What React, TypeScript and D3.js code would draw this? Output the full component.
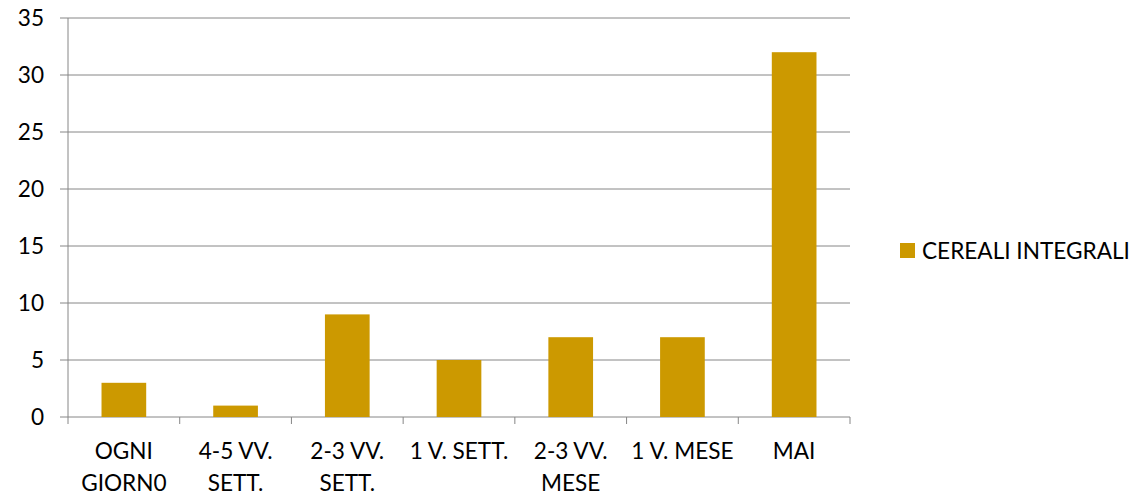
import React from "react";
import * as d3 from "d3";

const categories: string[][] = [
  ["OGNI", "GIORN0"],
  ["4-5 VV.", "SETT."],
  ["2-3 VV.", "SETT."],
  ["1 V. SETT."],
  ["2-3 VV.", "MESE"],
  ["1 V. MESE"],
  ["MAI"],
];
const values: number[] = [3, 1, 9, 5, 7, 7, 32];
const yTicks: number[] = [0, 5, 10, 15, 20, 25, 30, 35];
const seriesName = "CEREALI INTEGRALI";

const W = 1137;
const H = 498;
const left = 68;
const right = 850;
const top = 18;
const bottom = 417;
const font = "Lato, 'Open Sans', sans-serif";
const fs = 22.6;
const barColor = "#CC9900";
const gridColor = "#868686";

export default function App() {
  const x = d3
    .scaleBand<number>()
    .domain(categories.map((_, i) => i))
    .range([left, right])
    .padding(0);
  const y = d3.scaleLinear().domain([0, 35]).range([bottom, top]);
  const bw = x.bandwidth() * 0.4;

  return (
    <svg
      width={W}
      height={H}
      style={{ position: "absolute", left: 0, top: 0, background: "#fff" }}
      fontFamily={font}
    >
      {yTicks.map((t) => (
        <g key={t}>
          <line x1={left - 8} x2={right} y1={y(t)} y2={y(t)} stroke={gridColor} strokeWidth={1} />
          <text x={44} y={y(t)} dy="0.35em" textAnchor="end" fontSize={fs} fill="#000">
            {t}
          </text>
        </g>
      ))}
      <line x1={left} x2={left} y1={top} y2={bottom} stroke={gridColor} strokeWidth={1} />
      {categories.map((_, i) => (
        <line
          key={"t" + i}
          x1={x(i)!}
          x2={x(i)!}
          y1={bottom}
          y2={bottom + 7}
          stroke={gridColor}
          strokeWidth={1}
        />
      ))}
      <line x1={right} x2={right} y1={bottom} y2={bottom + 7} stroke={gridColor} strokeWidth={1} />
      {values.map((v, i) => (
        <rect
          key={"b" + i}
          x={x(i)! + (x.bandwidth() - bw) / 2}
          y={y(v)}
          width={bw}
          height={y(0) - y(v)}
          fill={barColor}
        />
      ))}
      {categories.map((lines, i) => (
        <text
          key={"c" + i}
          x={x(i)! + x.bandwidth() / 2}
          y={459}
          textAnchor="middle"
          fontSize={fs}
          fill="#000"
        >
          {lines.map((l, j) => (
            <tspan key={j} x={x(i)! + x.bandwidth() / 2} y={459 + j * 32}>
              {l}
            </tspan>
          ))}
        </text>
      ))}
      <rect x={900} y={243} width={15} height={15} fill={barColor} />
      <text x={922} y={259} fontSize={fs} fill="#000">
        {seriesName}
      </text>
    </svg>
  );
}
